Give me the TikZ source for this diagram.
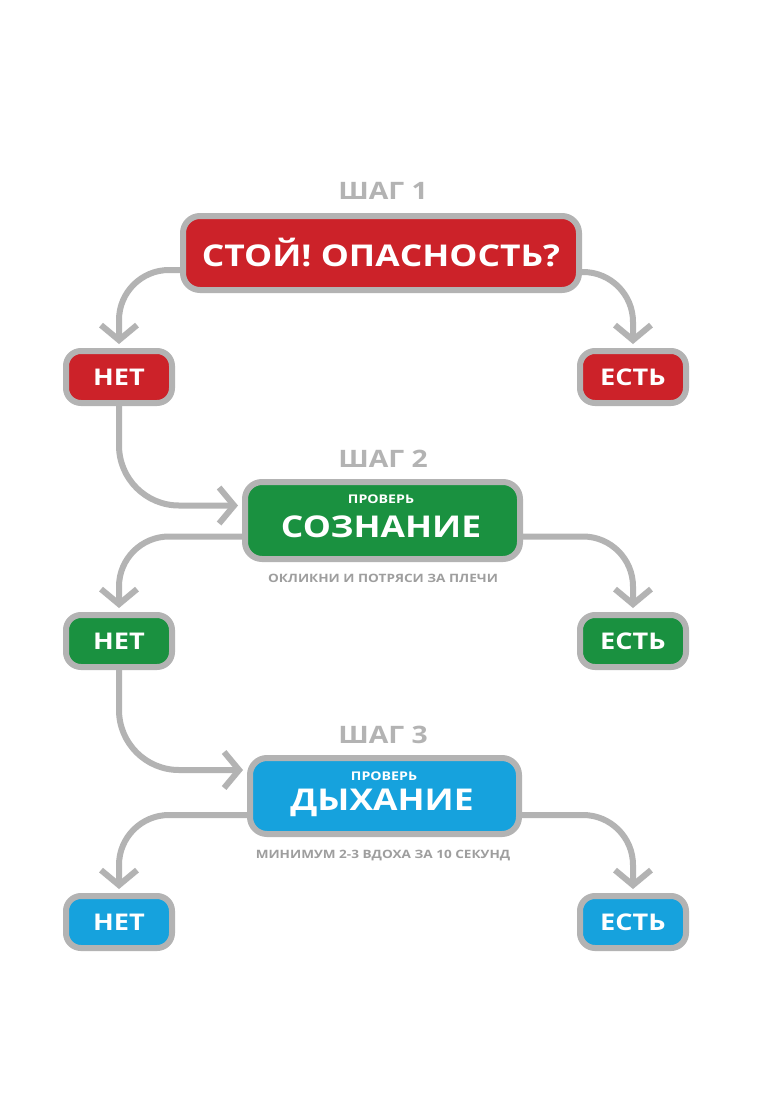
\documentclass[tikz,border=0pt]{standalone}
\usepackage{fontspec}
\setmainfont{Open Sans}[FakeStretch=1.18]
\usetikzlibrary{arrows.meta,positioning}

\definecolor{stopred}{HTML}{CC2229}
\definecolor{checkgreen}{HTML}{1A9140}
\definecolor{breathblue}{HTML}{16A2DD}
\definecolor{framegray}{HTML}{B3B3B3}
\definecolor{hintgray}{HTML}{9E9E9E}

\newcommand{\bigtxt}{\bfseries\fontsize{30}{30}\selectfont}
\newcommand{\smalltxt}{\bfseries\fontsize{12}{12}\selectfont}

\tikzset{
  mainbox/.style={draw=framegray, line width=6pt, rounded corners=17pt,
    text=white, inner sep=0pt, font=\bigtxt},
  answer/.style={mainbox, minimum width=106pt, minimum height=52pt,
    rounded corners=15pt, font=\bfseries\fontsize{23}{23}\selectfont},
  steplabel/.style={text=framegray, font=\bfseries\fontsize{24}{24}\selectfont},
  hint/.style={text=hintgray, font=\bfseries\fontsize{11.5}{12}\selectfont},
  link/.style={draw=framegray, line width=6pt, rounded corners=50pt,
    -{Straight Barb[length=15pt,width=36pt]}, shorten >=4pt},
}

\begin{document}
\begin{tikzpicture}[x=1pt, y=-1pt]
  \useasboundingbox[fill=white] (0,0) rectangle (778,1101);

  % Шаг 1
  \node[steplabel] (t1) at (383,191) {ШАГ 1};
  \node[mainbox, fill=stopred, minimum width=396pt, minimum height=74pt]
    (s1) at (381,253) {СТОЙ! ОПАСНОСТЬ?};
  \node[answer, fill=stopred] (n1) at (119,377) {НЕТ};
  \node[answer, fill=stopred] (y1) at (633,377) {ЕСТЬ};

  % Шаг 2
  \node[steplabel] (t2) at (383,459) {ШАГ 2};
  \node[mainbox, fill=checkgreen, minimum width=275pt, minimum height=77pt]
    (s2) at (382.5,520.5) {};
  \node[text=white, font=\smalltxt] (s2a) at (381,499) {ПРОВЕРЬ};
  \node[text=white, font=\bigtxt] (s2b) at (381,527) {СОЗНАНИЕ};
  \node[hint] (h2) at (383,578) {ОКЛИКНИ И ПОТРЯСИ ЗА ПЛЕЧИ};
  \node[answer, fill=checkgreen] (n2) at (119,641) {НЕТ};
  \node[answer, fill=checkgreen] (y2) at (633,641) {ЕСТЬ};

  % Шаг 3
  \node[steplabel] (t3) at (383,735) {ШАГ 3};
  \node[mainbox, fill=breathblue, minimum width=269pt, minimum height=76pt]
    (s3) at (384.5,796) {};
  \node[text=white, font=\smalltxt] (s3a) at (384,776) {ПРОВЕРЬ};
  \node[text=white, font=\bigtxt] (s3b) at (382,803) {ДЫХАНИЕ};
  \node[hint] (h3) at (383,856) {МИНИМУМ 2-3 ВДОХА ЗА 10 СЕКУНД};
  \node[answer, fill=breathblue] (n3) at (119,922) {НЕТ};
  \node[answer, fill=breathblue] (y3) at (633,922) {ЕСТЬ};

  % Стрелки
  \draw[link] ([yshift=-17pt]s1.west) -| (n1.north);
  \draw[link] ([yshift=-19pt]s1.east) -| (y1.north);
  \draw[link, rounded corners=60pt] (n1.south) |- ([yshift=15pt]s2.west);
  \draw[link] ([yshift=-16pt]s2.west) -| (n2.north);
  \draw[link] ([yshift=-16pt]s2.east) -| (y2.north);
  \draw[link, rounded corners=60pt] (n2.south) |- ([yshift=26pt]s3.west);
  \draw[link] ([yshift=-19pt]s3.west) -| (n3.north);
  \draw[link] ([yshift=-19pt]s3.east) -| (y3.north);
\end{tikzpicture}
\end{document}
